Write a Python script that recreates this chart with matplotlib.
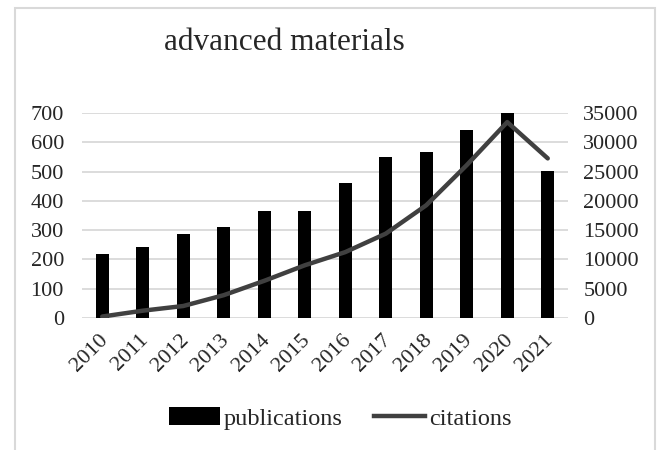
import matplotlib.pyplot as plt
from matplotlib.lines import Line2D
from matplotlib.patches import Patch, Rectangle
import matplotlib.transforms as mtransforms
import numpy as np

years = ["2010", "2011", "2012", "2013", "2014", "2015",
         "2016", "2017", "2018", "2019", "2020", "2021"]
publications = [217, 244, 287, 310, 366, 366, 462, 550, 567, 641, 702, 502]
citations = [250, 1250, 2050, 3900, 6350, 9000, 11250, 14400, 19250, 26100, 33450, 27250]

plt.rcParams["font.family"] = ["Liberation Serif", "DejaVu Serif"]
text_color = "#262626"
grid_color = "#d9d9d9"

fig = plt.figure(figsize=(6.59, 4.5), dpi=100)
ax = fig.add_axes([0.1244, 0.2933, 0.7375, 0.4556])
ax2 = ax.twinx()

x = np.arange(len(years))
ax.bar(x, publications, width=0.31, color="black", zorder=2)
ax2.plot(x, citations, color="#404040", linewidth=3.2, solid_capstyle="round", zorder=3)

ax.set_xlim(-0.5, len(years) - 0.5)
ax.set_ylim(0, 700)
ax.set_yticks(range(0, 701, 100))
ax2.set_ylim(0, 35000)
ax2.set_yticks(range(0, 35001, 5000))

ax.yaxis.grid(True, color=grid_color, linewidth=1.3, zorder=0)
ax.set_axisbelow(True)
for a in (ax, ax2):
    for s in a.spines.values():
        s.set_visible(False)
    a.tick_params(length=0, labelsize=16, colors=text_color)
ax.tick_params(axis="y", pad=13)
ax2.tick_params(axis="y", pad=11)

ax.set_xticks(x)
ax.set_xticklabels(years, rotation=45, ha="right", va="top", rotation_mode="anchor")
ax.tick_params(axis="x", pad=9)
shift = mtransforms.ScaledTranslation(-4 / 100, 0, fig.dpi_scale_trans)
for label in ax.get_xticklabels():
    label.set_transform(label.get_transform() + shift)

fig.text(0.431, 0.905, "advanced materials", ha="center", va="center",
         fontsize=22.5, color=text_color)

handles = [Patch(facecolor="black"), Line2D([], [], color="#404040", linewidth=3.2)]
fig.legend(handles, ["publications", "citations"], loc="center", bbox_to_anchor=(0.516, 0.07),
           ncol=2, frameon=False, fontsize=17.5, handlelength=2.1, handletextpad=0.15,
           columnspacing=1.3, labelcolor=text_color)

border = Rectangle((15 / 659, -0.1), 640 / 659, 1.1 - 8 / 450, transform=fig.transFigure,
                   fill=False, edgecolor=grid_color, linewidth=1.5)
fig.patches.append(border)

fig.savefig("out.png", dpi=100)
plt.close(fig)
